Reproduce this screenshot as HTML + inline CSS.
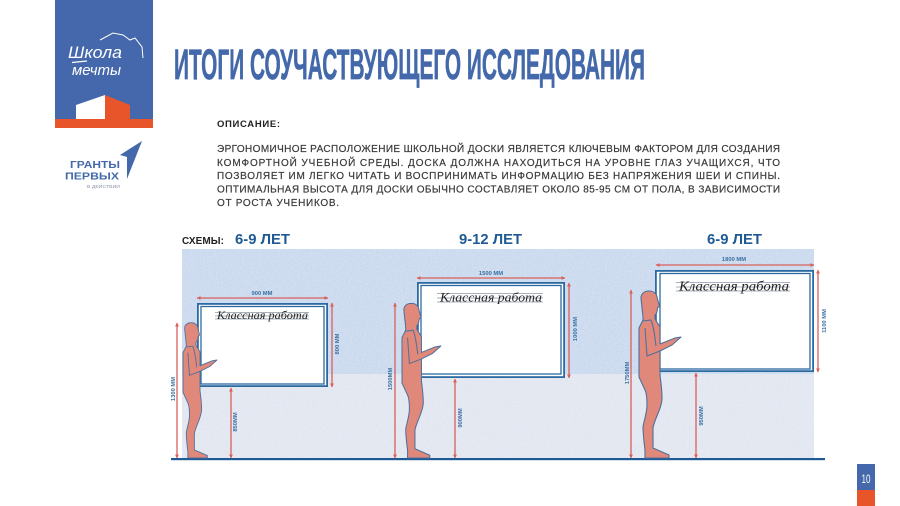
<!DOCTYPE html>
<html lang="ru">
<head>
<meta charset="utf-8">
<title>Итоги соучаствующего исследования</title>
<style>
html,body{margin:0;padding:0;background:#fff;width:900px;height:506px;overflow:hidden}
svg{display:block}
text{font-family:"Liberation Sans","Noto Sans CJK SC",sans-serif}
.d{fill:#3a3a3a;font-size:10px;stroke:#3a3a3a;stroke-width:.2}
.m{fill:#3a6f9f;font-size:5.8px;font-weight:bold;text-anchor:middle}
.h{fill:#1f5a94;font-size:15px;font-weight:bold}
.hw{font-family:"Liberation Serif",serif;font-style:italic;fill:#222}
.r{stroke:#d9605a;stroke-width:1.3;fill:none;marker-start:url(#a);marker-end:url(#a)}
.g{stroke:#8b97a6;stroke-width:.7}
.lg{font-family:"Liberation Sans",sans-serif;font-style:italic;fill:#fff}
</style>
</head>
<body>
<svg width="900" height="506" viewBox="0 0 900 506" xmlns="http://www.w3.org/2000/svg">
<defs>
<marker id="a" viewBox="0 0 6 6" refX="5.5" refY="3" markerWidth="4" markerHeight="4" orient="auto-start-reverse" markerUnits="userSpaceOnUse"><path d="M0 0L6 3L0 6Z" fill="#d9605a"/></marker>
<filter id="n" x="0" y="0" width="100%" height="100%"><feTurbulence type="fractalNoise" baseFrequency=".55" numOctaves="2" seed="4"/><feColorMatrix values="0 0 0 0 1 0 0 0 0 1 0 0 0 0 1 0 0 0 1.6 -.55"/></filter>
<g id="p">
<path d="M649 291C654 291 657 294 657.500 299L659.500 306L657.500 308L657 312C656.500 314 655.500 314.500 655 315L655 319L660 327L660 344L675 338L681 337L672 345L660 351L660 375C661 383 662 390 662 398C662 408 654 420 653 428L653 448L669 455L669 458L645 458L645 450C644 442 643 434 643 427C644 420 647 413 647 405C647 398 646 392 645 390L639 377L639 328L643 320L643 317L642 308L641 298C641 294 644 291 649 291Z" fill="#e0897a" stroke="#4f6f9c" stroke-width="1.100" stroke-linejoin="round"/>
<path d="M643 321L651 320C654 327 655 338 656 346M645 328L647 356L660 351" fill="none" stroke="#4f6f9c" stroke-width="1.100"/>
</g>
</defs>

<!-- logo -->
<rect x="55" y="0" width="98" height="119" fill="#4468ab"/>
<rect x="55" y="119" width="98" height="9" fill="#e8552b"/>
<path d="M76 105L105 95V119H76Z" fill="#fff"/>
<path d="M105 95L130 105V119H105Z" fill="#e8552b"/>
<path d="M100 40L113 33L123 35L130 40L135 38L142 47L143 58" fill="none" stroke="#fff" stroke-width="1"/>
<path d="M72 62.500L87 61" stroke="#fff" stroke-width="1.300"/>
<text class="lg" x="68" y="58" font-size="17" textLength="54" lengthAdjust="spacingAndGlyphs">Школа</text>
<text class="lg" x="72" y="75" font-size="15" textLength="49" lengthAdjust="spacingAndGlyphs">мечты</text>

<!-- grants logo -->
<path d="M142 141L120 155L127 157L127 179Z" fill="#4469ab"/>
<text x="70" y="168" font-size="10.500" font-weight="bold" fill="#4469ab" textLength="50" lengthAdjust="spacingAndGlyphs">ГРАНТЫ</text>
<text x="65" y="179.500" font-size="10.500" font-weight="bold" fill="#4469ab" textLength="54" lengthAdjust="spacingAndGlyphs">ПЕРВЫХ</text>
<text x="87" y="188" font-size="4.500" fill="#8a93a8" textLength="33" lengthAdjust="spacingAndGlyphs">В ДЕЙСТВИИ</text>

<!-- title -->
<text x="174" y="79" font-size="43" font-weight="bold" fill="#4469ab" stroke="#4469ab" stroke-width=".7" textLength="471" lengthAdjust="spacingAndGlyphs">ИТОГИ СОУЧАСТВУЮЩЕГО ИССЛЕДОВАНИЯ</text>

<!-- description -->
<text x="217" y="127" font-size="9.500" font-weight="bold" fill="#222" textLength="63" lengthAdjust="spacing">ОПИСАНИЕ:</text>
<text class="d" x="217" y="152" textLength="563" lengthAdjust="spacing">ЭРГОНОМИЧНОЕ РАСПОЛОЖЕНИЕ ШКОЛЬНОЙ ДОСКИ ЯВЛЯЕТСЯ КЛЮЧЕВЫМ ФАКТОРОМ ДЛЯ СОЗДАНИЯ</text>
<text class="d" x="217" y="166" textLength="563" lengthAdjust="spacing">КОМФОРТНОЙ УЧЕБНОЙ СРЕДЫ. ДОСКА ДОЛЖНА НАХОДИТЬСЯ НА УРОВНЕ ГЛАЗ УЧАЩИХСЯ, ЧТО</text>
<text class="d" x="217" y="179" textLength="563" lengthAdjust="spacing">ПОЗВОЛЯЕТ ИМ ЛЕГКО ЧИТАТЬ И ВОСПРИНИМАТЬ ИНФОРМАЦИЮ БЕЗ НАПРЯЖЕНИЯ ШЕИ И СПИНЫ.</text>
<text class="d" x="217" y="192.500" textLength="563" lengthAdjust="spacing">ОПТИМАЛЬНАЯ ВЫСОТА ДЛЯ ДОСКИ ОБЫЧНО СОСТАВЛЯЕТ ОКОЛО 85-95 СМ ОТ ПОЛА, В ЗАВИСИМОСТИ</text>
<text class="d" x="217" y="206" textLength="122" lengthAdjust="spacing">ОТ РОСТА УЧЕНИКОВ.</text>

<!-- headings -->
<text x="182" y="244" font-size="10" font-weight="bold" fill="#222" textLength="42" lengthAdjust="spacing">СХЕМЫ:</text>
<text class="h" x="235" y="244" textLength="55" lengthAdjust="spacingAndGlyphs">6-9 ЛЕТ</text>
<text class="h" x="459" y="244" textLength="63" lengthAdjust="spacingAndGlyphs">9-12 ЛЕТ</text>
<text class="h" x="707" y="244" textLength="55" lengthAdjust="spacingAndGlyphs">6-9 ЛЕТ</text>

<!-- background -->
<rect x="182" y="249" width="632" height="125" fill="#cad9ee"/>
<rect x="182" y="374" width="632" height="84" fill="#e1e6f0"/>
<rect x="182" y="249" width="632" height="209" filter="url(#n)" opacity=".28"/>
<rect x="171" y="458" width="654" height="2.200" fill="#1f5a94"/>

<!-- board 1 -->
<rect x="197.900" y="303.900" width="129.200" height="82.200" fill="#fff" stroke="#2b6aa1" stroke-width="1.800"/>
<rect x="201" y="306.500" width="123" height="77.500" fill="#fff" stroke="#2b6aa1" stroke-width="1.300"/>
<path class="g" d="M215 312.500H309M215 316H309M215 319H309"/>
<text class="hw" x="217" y="319" font-size="11.500" textLength="91" lengthAdjust="spacingAndGlyphs">Классная работа</text>

<!-- board 2 -->
<rect x="417.900" y="282.900" width="146.200" height="94.200" fill="#fff" stroke="#2b6aa1" stroke-width="1.800"/>
<rect x="421" y="285.500" width="140" height="88.500" fill="#fff" stroke="#2b6aa1" stroke-width="1.300"/>
<path class="g" d="M437 293.500H543M437 298H543M437 302H543"/>
<text class="hw" x="440" y="301.500" font-size="13" textLength="102" lengthAdjust="spacingAndGlyphs">Классная работа</text>

<!-- board 3 -->
<rect x="655.900" y="270.900" width="157.200" height="100.200" fill="#fff" stroke="#2b6aa1" stroke-width="1.800"/>
<rect x="660" y="273.500" width="150" height="95.500" fill="#fff" stroke="#2b6aa1" stroke-width="1.300"/>
<path class="g" d="M676 282.500H790M676 287H790M676 291H790"/>
<text class="hw" x="679" y="290.500" font-size="14" textLength="110" lengthAdjust="spacingAndGlyphs">Классная работа</text>

<!-- people -->
<use href="#p" transform="translate(183 458) scale(.81) translate(-639 -458)"/>
<use href="#p" transform="translate(402 458) scale(.926) translate(-639 -458)"/>
<use href="#p"/>

<!-- dimension lines -->
<path class="r" d="M197 298H328"/>
<path class="r" d="M332 303V387"/>
<path class="r" d="M177 323V458"/>
<path class="r" d="M231 388V458"/>
<path class="r" d="M417 278H565"/>
<path class="r" d="M569 283V378"/>
<path class="r" d="M395 303V458"/>
<path class="r" d="M455 379V458"/>
<path class="r" d="M656 265H814"/>
<path class="r" d="M818 270V372"/>
<path class="r" d="M631 290V458"/>
<path class="r" d="M696 373V458"/>

<!-- dimension labels -->
<text class="m" x="262" y="295">900 ММ</text>
<text class="m" x="491" y="275">1500 ММ</text>
<text class="m" x="734" y="261">1800 ММ</text>
<text class="m" transform="translate(339 344) rotate(-90)">800 ММ</text>
<text class="m" transform="translate(577 329) rotate(-90)">1000 ММ</text>
<text class="m" transform="translate(826 321) rotate(-90)">1100 ММ</text>
<text class="m" transform="translate(175 389) rotate(-90)">1300 ММ</text>
<text class="m" transform="translate(392 379) rotate(-90)">1500ММ</text>
<text class="m" transform="translate(629 373) rotate(-90)">1750ММ</text>
<text class="m" transform="translate(237 422) rotate(-90)">850ММ</text>
<text class="m" transform="translate(462 418) rotate(-90)">900ММ</text>
<text class="m" transform="translate(703 416) rotate(-90)">950ММ</text>

<!-- page number -->
<rect x="857" y="464" width="18" height="26" fill="#4468ab"/>
<rect x="857" y="490" width="18" height="16" fill="#e8552b"/>
<text x="861.500" y="483" font-size="12" fill="#fff" textLength="9" lengthAdjust="spacingAndGlyphs">10</text>
</svg>
</body>
</html>
